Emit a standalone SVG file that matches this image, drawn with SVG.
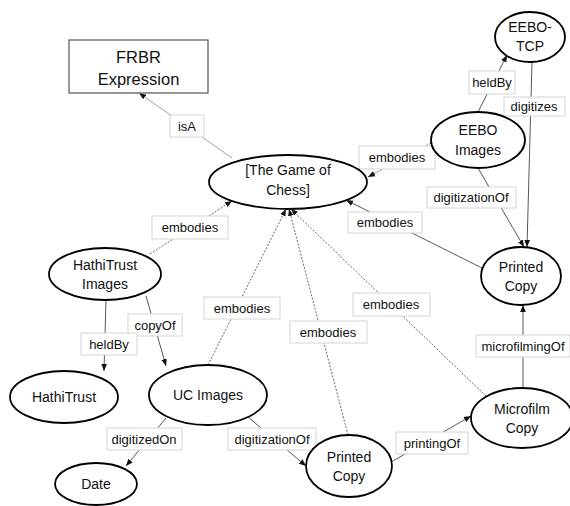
<svg xmlns="http://www.w3.org/2000/svg" width="570" height="506" viewBox="0 0 570 506">
<style>
text{font-family:"Liberation Sans",Arial,sans-serif;fill:#111;text-anchor:middle}
.node ellipse,.node rect{fill:#fff;stroke:#000;stroke-width:1.8}
.node rect{stroke:#555;stroke-width:1.2}
.nt{font-size:14px}
.big{font-size:16.5px}
.edge line{stroke:#444;stroke-width:0.9;marker-end:url(#ah)}
.edge line.lt{stroke:#999}
.edge line.dash{stroke:#555;stroke-dasharray:2 1.5}
.lbl rect{fill:#fff;stroke:#d4d4d4;stroke-width:1}
.lbl text{font-size:13px}
</style>
<defs>
<marker id="ah" viewBox="0 0 10 10" refX="10" refY="5" markerWidth="7" markerHeight="7" markerUnits="userSpaceOnUse" orient="auto">
<path d="M0,1 L10,5 L0,9 z" fill="#111"/>
</marker>
</defs>
<g id="connectors" class="edge">
<line class="lt" x1="232" y1="158" x2="139" y2="93"/>
<line class="dash" x1="150" y1="254" x2="232" y2="201"/>
<line class="dash" x1="431" y1="143" x2="368" y2="177"/>
<line x1="478" y1="112" x2="507" y2="55"/>
<line x1="532" y1="62" x2="527" y2="247"/>
<line x1="478" y1="168" x2="524" y2="247"/>
<line x1="482" y1="268" x2="346" y2="200"/>
<line class="dash" x1="208" y1="365" x2="286" y2="209"/>
<line class="dash" x1="348" y1="435" x2="289" y2="209"/>
<line class="dash" x1="486" y1="396" x2="291" y2="209"/>
<line x1="106" y1="300" x2="104" y2="371"/>
<line x1="146" y1="296" x2="166" y2="366"/>
<line x1="166" y1="418" x2="126" y2="466"/>
<line x1="248" y1="417" x2="306" y2="466"/>
<line x1="391" y1="462" x2="471" y2="416"/>
<line x1="523" y1="389" x2="523" y2="305"/>
</g>
<g id="labels">
<g class="lbl"><rect x="170" y="115" width="34" height="22"/><text x="187" y="131">isA</text></g>
<g class="lbl"><rect x="152" y="216" width="76" height="23"/><text x="190" y="232">embodies</text></g>
<g class="lbl"><rect x="359" y="146" width="76" height="23"/><text x="397" y="162">embodies</text></g>
<g class="lbl"><rect x="469" y="71" width="46" height="23"/><text x="492" y="87">heldBy</text></g>
<g class="lbl"><rect x="504" y="97" width="61" height="19"/><text x="534" y="111">digitizes</text></g>
<g class="lbl"><rect x="427" y="187" width="89" height="21"/><text x="471" y="202">digitizationOf</text></g>
<g class="lbl"><rect x="348" y="212" width="74" height="21"/><text x="385" y="227">embodies</text></g>
<g class="lbl"><rect x="204" y="297" width="76" height="22"/><text x="242" y="313">embodies</text></g>
<g class="lbl"><rect x="128" y="314" width="54" height="22"/><text x="155" y="330">copyOf</text></g>
<g class="lbl"><rect x="81" y="333" width="56" height="22"/><text x="109" y="349">heldBy</text></g>
<g class="lbl"><rect x="107" y="428" width="75" height="22"/><text x="144" y="444">digitizedOn</text></g>
<g class="lbl"><rect x="228" y="428" width="88" height="22"/><text x="272" y="444">digitizationOf</text></g>
<g class="lbl"><rect x="290" y="321" width="77" height="22"/><text x="328" y="337">embodies</text></g>
<g class="lbl"><rect x="353" y="293" width="77" height="23"/><text x="391" y="309">embodies</text></g>
<g class="lbl"><rect x="476" y="335" width="94" height="22"/><text x="523" y="351">microfilmingOf</text></g>
<g class="lbl"><rect x="396" y="432" width="72" height="22"/><text x="432" y="448">printingOf</text></g>
</g>
<g id="n-frbr" class="node"><rect x="69" y="40" width="139" height="53"/><text class="big" x="138.5" y="63">FRBR</text><text class="big" x="138.5" y="85">Expression</text></g>
<g id="n-chess" class="node"><ellipse cx="288" cy="182" rx="79" ry="27"/><text class="nt" x="288" y="175">[The Game of</text><text class="nt" x="288" y="195">Chess]</text></g>
<g id="n-eebotcp" class="node"><ellipse cx="530" cy="37" rx="35" ry="25"/><text class="nt" x="530" y="32">EEBO-</text><text class="nt" x="530" y="51">TCP</text></g>
<g id="n-eeboimg" class="node"><ellipse cx="478" cy="140" rx="47" ry="28"/><text class="nt" x="478" y="135">EEBO</text><text class="nt" x="478" y="155">Images</text></g>
<g id="n-printedR" class="node"><ellipse cx="521" cy="276" rx="40" ry="29"/><text class="nt" x="521" y="272">Printed</text><text class="nt" x="521" y="291">Copy</text></g>
<g id="n-microfilm" class="node"><ellipse cx="522" cy="418" rx="51" ry="30"/><text class="nt" x="522" y="414">Microfilm</text><text class="nt" x="522" y="433">Copy</text></g>
<g id="n-printedB" class="node"><ellipse cx="349" cy="466" rx="43" ry="31"/><text class="nt" x="349" y="462">Printed</text><text class="nt" x="349" y="481">Copy</text></g>
<g id="n-hathiimg" class="node"><ellipse cx="105" cy="274" rx="56" ry="26"/><text class="nt" x="105" y="270">HathiTrust</text><text class="nt" x="105" y="289">Images</text></g>
<g id="n-hathi" class="node"><ellipse cx="64" cy="397" rx="54" ry="26"/><text class="nt" x="64" y="402">HathiTrust</text></g>
<g id="n-uc" class="node"><ellipse cx="208" cy="395" rx="59" ry="30"/><text class="nt" x="208" y="400">UC Images</text></g>
<g id="n-date" class="node"><ellipse cx="96" cy="484" rx="41" ry="21"/><text class="nt" x="96" y="489">Date</text></g>
</svg>
